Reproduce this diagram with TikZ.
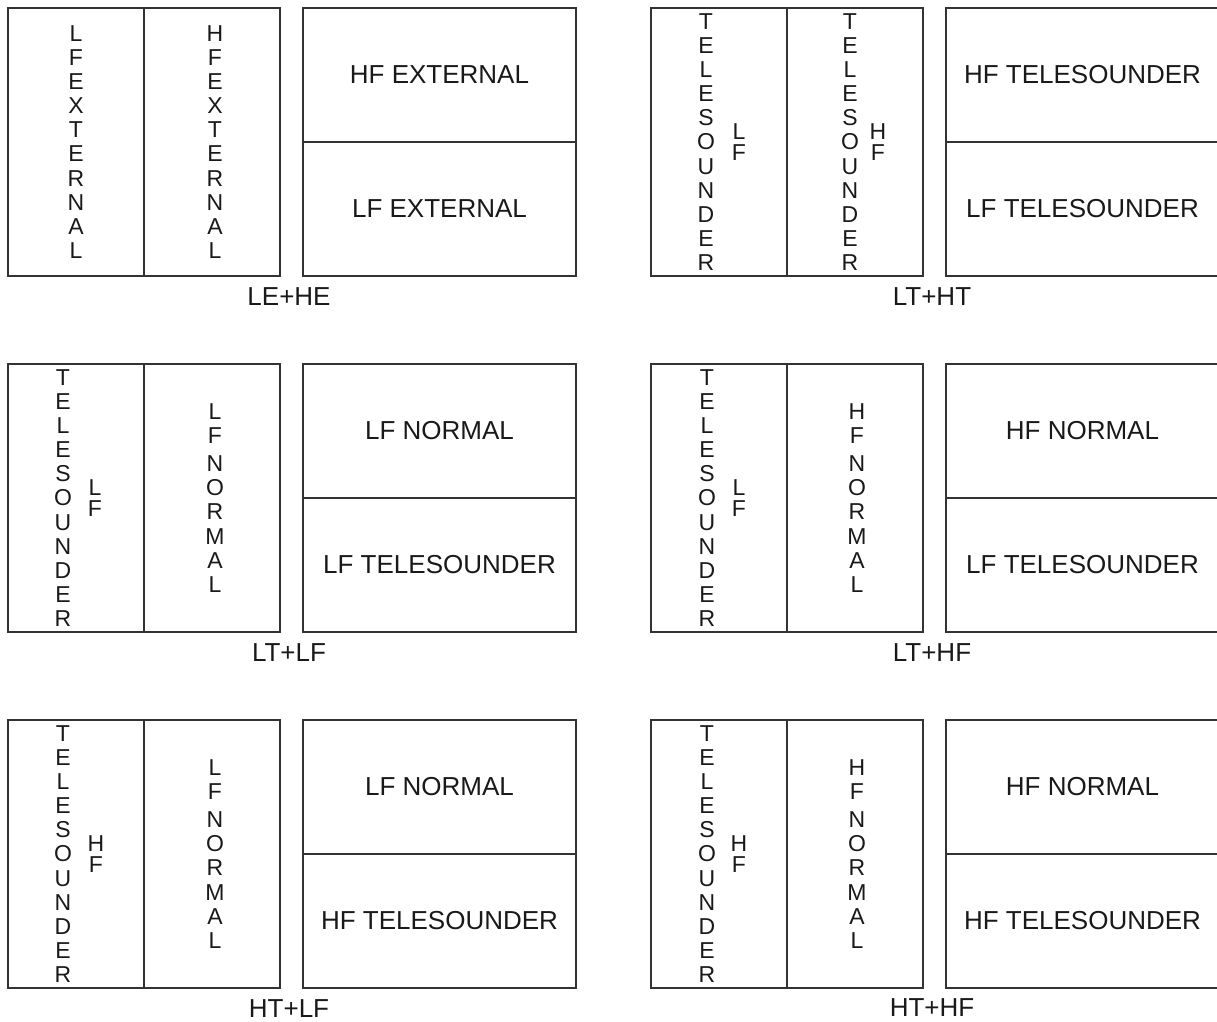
\documentclass[tikz,border=0pt]{standalone}
\usepackage{fontspec}
\setmainfont{Liberation Sans}
\usetikzlibrary{positioning}

\begin{document}
\begin{tikzpicture}[
    x=1pt, y=-1pt,
    every node/.style={text=black!90},
    col/.style={rectangle, draw=black!80, line width=1.1pt, anchor=north west,
                inner sep=0pt, outer sep=0pt, minimum width=136pt, minimum height=268pt},
    cell/.style={rectangle, draw=black!80, line width=1.1pt, inner sep=0pt, outer sep=0pt,
                 minimum width=273pt, minimum height=134pt, font=\fontsize{26}{30}\selectfont},
    vword/.style={align=center, inner sep=0pt, font=\fontsize{23}{24.1}\selectfont},
    vpair/.style={align=center, inner sep=0pt, font=\fontsize{23}{20.5}\selectfont},
    caption/.style={inner sep=0pt, font=\fontsize{26}{30}\selectfont}
]
\useasboundingbox (0,0) rectangle (1217,1021);

% LE+HE
\node[col] (leheA) at (8,8) {};
\node[col, right=0pt of leheA] (leheB) {};
\node[cell, anchor=north west] (leheT) at ([xshift=23pt]leheB.north east) {HF EXTERNAL};
\node[cell, below=0pt of leheT] (leheU) {LF EXTERNAL};
\node[vword] (leheL) at (leheA) {L\\F\\E\\X\\T\\E\\R\\N\\A\\L};
\node[vword] (leheH) at ([xshift=3pt]leheB) {H\\F\\E\\X\\T\\E\\R\\N\\A\\L};
\node[caption] (leheCap) at ([xshift=9pt, yshift=-21pt]leheB.south east) {LE+HE};

% LT+HT
\node[col] (lthtA) at (651,8) {};
\node[col, right=0pt of lthtA] (lthtB) {};
\node[cell, anchor=north west] (lthtT) at ([xshift=23pt]lthtB.north east) {HF TELESOUNDER};
\node[cell, below=0pt of lthtT] (lthtU) {LF TELESOUNDER};
\node[vword] (lthtLT) at ([xshift=-13pt]lthtA) {T\\E\\L\\E\\S\\O\\U\\N\\D\\E\\R};
\node[vpair] (lthtLF) at ([xshift=20pt]lthtA) {L\\F};
\node[vword] (lthtHT) at ([xshift=-5pt]lthtB) {T\\E\\L\\E\\S\\O\\U\\N\\D\\E\\R};
\node[vpair] (lthtHF) at ([xshift=23pt]lthtB) {H\\F};
\node[caption] (lthtCap) at ([xshift=9pt, yshift=-21pt]lthtB.south east) {LT+HT};

% LT+LF
\node[col] (ltlfA) at (8,364) {};
\node[col, right=0pt of ltlfA] (ltlfB) {};
\node[cell, anchor=north west] (ltlfT) at ([xshift=23pt]ltlfB.north east) {LF NORMAL};
\node[cell, below=0pt of ltlfT] (ltlfU) {LF TELESOUNDER};
\node[vword] (ltlfLT) at ([xshift=-13pt]ltlfA) {T\\E\\L\\E\\S\\O\\U\\N\\D\\E\\R};
\node[vpair] (ltlfLF) at ([xshift=19pt]ltlfA) {L\\F};
\node[vword] (ltlfLN) at ([xshift=3pt]ltlfB) {L\\F\\[4pt]N\\O\\R\\M\\A\\L};
\node[caption] (ltlfCap) at ([xshift=9pt, yshift=-21pt]ltlfB.south east) {LT+LF};

% LT+HF
\node[col] (lthfA) at (651,364) {};
\node[col, right=0pt of lthfA] (lthfB) {};
\node[cell, anchor=north west] (lthfT) at ([xshift=23pt]lthfB.north east) {HF NORMAL};
\node[cell, below=0pt of lthfT] (lthfU) {LF TELESOUNDER};
\node[vword] (lthfLT) at ([xshift=-12pt]lthfA) {T\\E\\L\\E\\S\\O\\U\\N\\D\\E\\R};
\node[vpair] (lthfLF) at ([xshift=20pt]lthfA) {L\\F};
\node[vword] (lthfHN) at ([xshift=2pt]lthfB) {H\\F\\[4pt]N\\O\\R\\M\\A\\L};
\node[caption] (lthfCap) at ([xshift=9pt, yshift=-21pt]lthfB.south east) {LT+HF};

% HT+LF
\node[col] (htlfA) at (8,720) {};
\node[col, right=0pt of htlfA] (htlfB) {};
\node[cell, anchor=north west] (htlfT) at ([xshift=23pt]htlfB.north east) {LF NORMAL};
\node[cell, below=0pt of htlfT] (htlfU) {HF TELESOUNDER};
\node[vword] (htlfHT) at ([xshift=-13pt]htlfA) {T\\E\\L\\E\\S\\O\\U\\N\\D\\E\\R};
\node[vpair] (htlfHF) at ([xshift=20pt]htlfA) {H\\F};
\node[vword] (htlfLN) at ([xshift=3pt]htlfB) {L\\F\\[4pt]N\\O\\R\\M\\A\\L};
\node[caption] (htlfCap) at ([xshift=9pt, yshift=-21pt]htlfB.south east) {HT+LF};

% HT+HF
\node[col] (hthfA) at (651,720) {};
\node[col, right=0pt of hthfA] (hthfB) {};
\node[cell, anchor=north west] (hthfT) at ([xshift=23pt]hthfB.north east) {HF NORMAL};
\node[cell, below=0pt of hthfT] (hthfU) {HF TELESOUNDER};
\node[vword] (hthfHT) at ([xshift=-12pt]hthfA) {T\\E\\L\\E\\S\\O\\U\\N\\D\\E\\R};
\node[vpair] (hthfHF) at ([xshift=20pt]hthfA) {H\\F};
\node[vword] (hthfHN) at ([xshift=2pt]hthfB) {H\\F\\[4pt]N\\O\\R\\M\\A\\L};
\node[caption] (hthfCap) at ([xshift=9pt, yshift=-20pt]hthfB.south east) {HT+HF};
\end{tikzpicture}
\end{document}
